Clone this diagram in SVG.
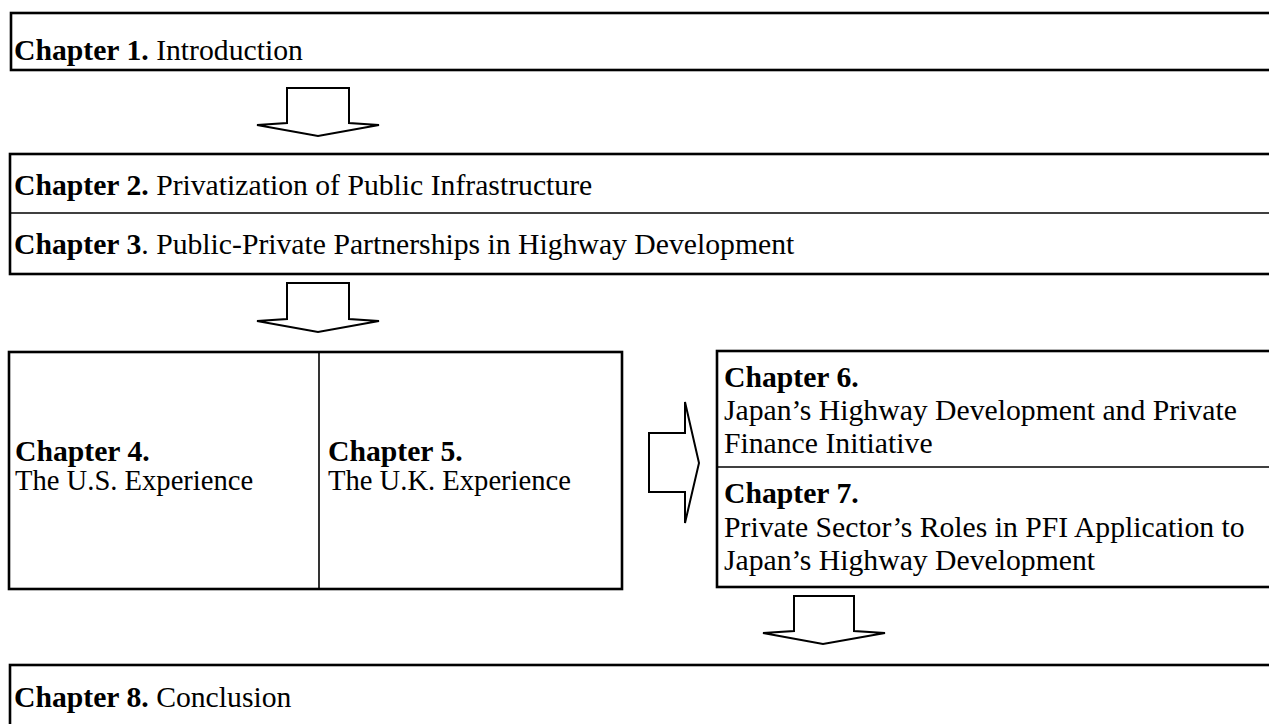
<svg xmlns="http://www.w3.org/2000/svg" width="1269" height="724" viewBox="0 0 1269 724">
  <style>
    .box { fill: #fff; stroke: #000; stroke-width: 2.6; }
    .div { stroke: #000; stroke-width: 1.6; fill: none; }
    .arrow { fill: #fff; stroke: #000; stroke-width: 2; stroke-linejoin: miter; }
    text { font-family: "Liberation Serif", "Times New Roman", serif; font-size: 29.7px; fill: #000; }
    .b { font-weight: bold; }
    .sm { font-size: 28.6px; }
  </style>

  <!-- Chapter 1 -->
  <g id="ch1">
    <rect class="box" x="11" y="13" width="1270" height="57"/>
    <text x="14" y="60"><tspan class="b">Chapter 1.</tspan> Introduction</text>
  </g>

  <!-- Chapters 2 and 3 -->
  <g id="ch2-3">
    <rect class="box" x="10" y="154" width="1270" height="120"/>
    <line class="div" x1="10" y1="213" x2="1280" y2="213"/>
    <text x="14" y="195"><tspan class="b">Chapter 2.</tspan> Privatization of Public Infrastructure</text>
    <text x="14" y="254"><tspan class="b">Chapter 3</tspan>. Public-Private Partnerships in Highway Development</text>
  </g>

  <!-- Chapters 4 and 5 -->
  <g id="ch4-5">
    <rect class="box" x="9" y="352" width="613" height="237"/>
    <line class="div" x1="319" y1="352" x2="319" y2="589"/>
    <text x="15" y="461" class="b">Chapter 4.</text>
    <text x="15" y="490" class="sm">The U.S. Experience</text>
    <text x="328" y="461" class="b">Chapter 5.</text>
    <text x="328" y="490" class="sm">The U.K. Experience</text>
  </g>

  <!-- Chapters 6 and 7 -->
  <g id="ch6-7">
    <rect class="box" x="717" y="351" width="560" height="236"/>
    <line class="div" x1="717" y1="467" x2="1277" y2="467"/>
    <text x="724" y="387" class="b">Chapter 6.</text>
    <text x="724" y="420">Japan’s Highway Development and Private</text>
    <text x="724" y="453">Finance Initiative</text>
    <text x="724" y="503" class="b">Chapter 7.</text>
    <text x="724" y="537">Private Sector’s Roles in PFI Application to</text>
    <text x="724" y="570">Japan’s Highway Development</text>
  </g>

  <!-- Chapter 8 -->
  <g id="ch8">
    <rect class="box" x="10" y="665" width="1270" height="70"/>
    <text x="14" y="707"><tspan class="b">Chapter 8.</tspan> Conclusion</text>
  </g>

  <!-- block arrows between chapters -->
  <g id="connectors">
    <polygon class="arrow" points="287,88 349,88 349,123 379,125 318,136 257,125 287,123"/>
    <polygon class="arrow" points="287,283 349,283 349,319 379,321 318,332 257,321 287,319"/>
    <polygon class="arrow" points="649,433 685,433 685,402 699,463 685,523 685,492 649,492"/>
    <polygon class="arrow" points="794,596 854,596 854,631 885,633 823,644 763,633 794,631"/>
  </g>
</svg>
